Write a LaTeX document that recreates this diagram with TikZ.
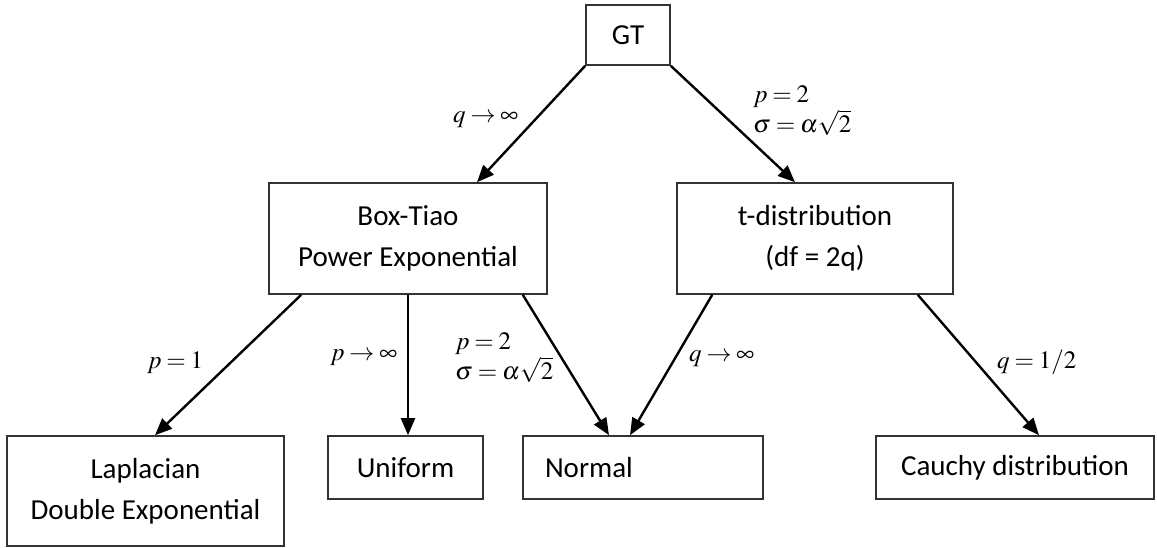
\documentclass[tikz,border=0pt]{standalone}
\usepackage{mathptmx}
\usepackage[no-math]{fontspec}
\setmainfont{Carlito}
\usetikzlibrary{arrows.meta}
\begin{document}
\thickmuskip=3.5mu plus 2mu\relax
\begin{tikzpicture}[x=1pt,y=-1pt,
  box/.style={draw=black!80, line width=1.6pt, inner sep=0pt, align=center,
    font=\fontsize{29}{41}\selectfont},
  arr/.style={draw=black, line width=2.4pt,
    -{Triangle[length=17pt,width=14pt]}},
  lab/.style={inner sep=0pt, align=left,
    font=\fontsize{25}{30}\selectfont}]
\useasboundingbox (0,0) rectangle (1157,547);
% nodes
\node[box, minimum width=84pt, minimum height=60pt] (gt) at (628,35) {GT};
\node[box, minimum width=278pt, minimum height=111pt] (bt) at (408,238.5) {Box-Tiao\\Power Exponential};
\node[box, minimum width=276pt, minimum height=111pt] (td) at (815,238.5) {t-distribution\\(df = 2q)};
\node[box, minimum width=277pt, minimum height=110pt] (lap) at (145.5,491) {Laplacian\\Double Exponential};
\node[box, minimum width=155pt, minimum height=63pt] (uni) at (405.5,467.5) {Uniform};
\node[box, minimum width=240pt, minimum height=63pt, text width=196pt, align=left] (nor) at (643,467.5) {Normal};
\node[box, minimum width=278pt, minimum height=63pt] (cau) at (1015,467.5) {Cauchy distribution};
% connectors
\draw[arr] (gt.south west) -- ([xshift=69pt]bt.north);
\draw[arr] (gt.south east) -- ([xshift=-20pt]td.north);
\draw[arr] ([xshift=33pt]bt.south west) -- ([xshift=9.5pt]lap.north);
\draw[arr] (bt.south) -- (bt.south |- uni.north);
\draw[arr] ([xshift=-25pt]bt.south east) -- ([xshift=-34pt]nor.north);
\draw[arr] ([xshift=36pt]td.south west) -- ([xshift=-13pt]nor.north);
\draw[arr] ([xshift=-36pt]td.south east) -- ([xshift=24pt]cau.north);
% labels
\node[lab, anchor=base west] (l1) at (453,122) {$q\rightarrow\infty$};
\node[lab, anchor=west] (l2) at (753,111) {$p=2$\\$\sigma=\alpha\sqrt{2}$};
\node[lab, anchor=base west] (l3) at (147,368) {$p=1$};
\node[lab, anchor=base west] (l4) at (330,360) {$p\rightarrow\infty$};
\node[lab, anchor=west] (l5) at (455,358) {$p=2$\\$\sigma=\alpha\sqrt{2}$};
\node[lab, anchor=base west] (l6) at (689,361) {$q\rightarrow\infty$};
\node[lab, anchor=base west] (l7) at (997,368) {$q=1/2$};
\end{tikzpicture}
\end{document}
